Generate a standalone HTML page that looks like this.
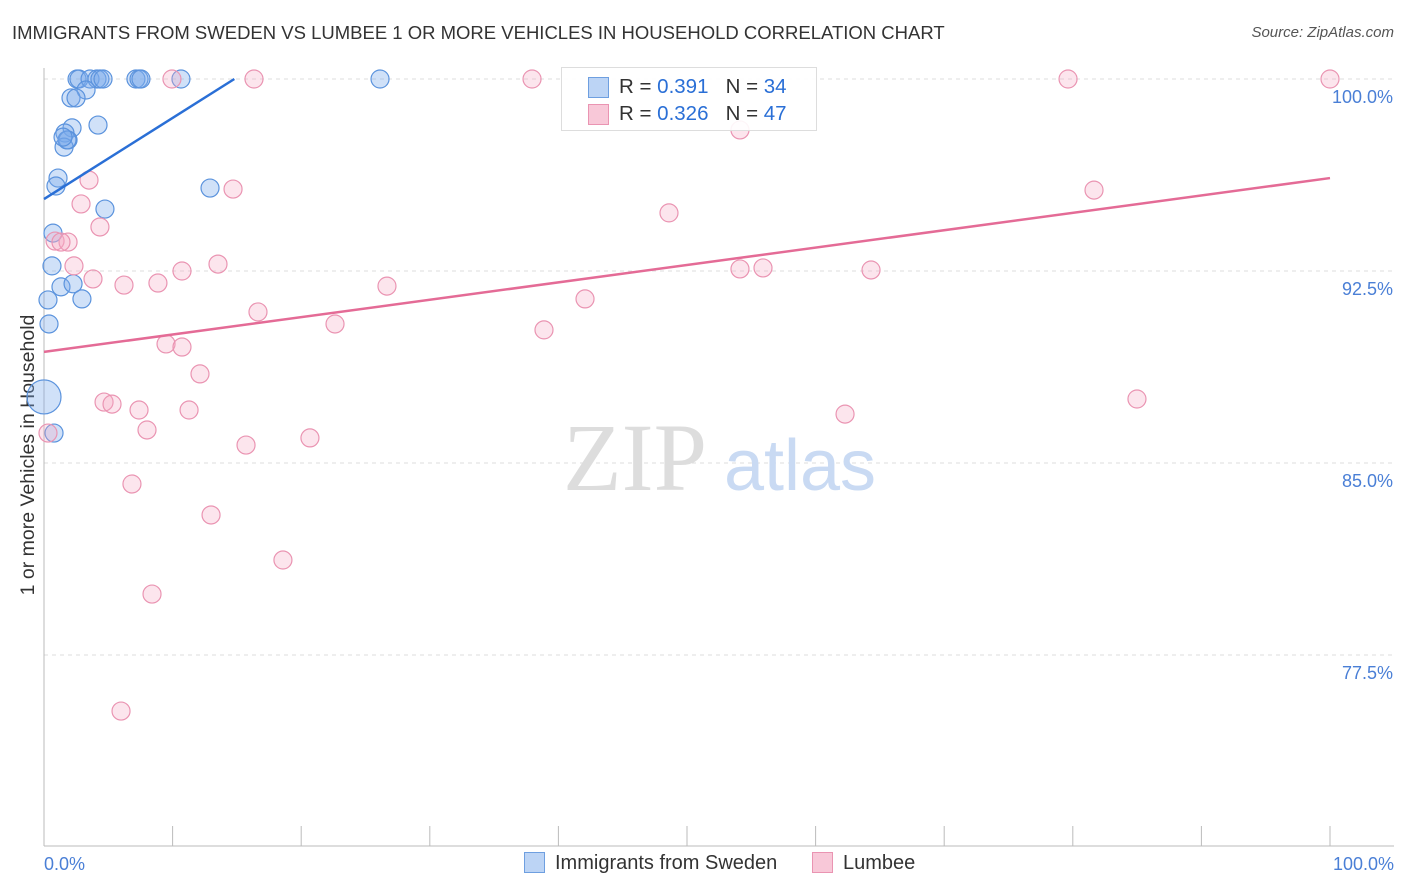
<!DOCTYPE html>
<html><head><meta charset="utf-8"><style>
body{margin:0;background:#fff;font-family:"Liberation Sans",sans-serif;}
#wrap{position:relative;width:1406px;height:892px;overflow:hidden;}
.t{position:absolute;white-space:nowrap;}
</style></head><body><div id="wrap">
<div class="t" style="left:12px;top:22px;font-size:18.5px;color:#333;">IMMIGRANTS FROM SWEDEN VS LUMBEE 1 OR MORE VEHICLES IN HOUSEHOLD CORRELATION CHART</div>
<div class="t" style="right:12px;top:24px;font-size:15px;color:#555;font-style:italic;">Source: ZipAtlas.com</div>
<svg id="svg" width="1406" height="892" style="position:absolute;left:0;top:0"></svg>
</div>
<script>
const yTicks=[100,92.5,85,77.5];
const yTickLabels=["100.0%","92.5%","85.0%","77.5%"];
const xTickLabels=["0.0%","100.0%"];
const blueX=[2.57,2.72,3.58,4.12,4.35,4.59,7.15,7.39,7.54,10.65,26.13,3.27,2.10,2.49,4.20,2.18,1.63,1.87,1.56,1.79,1.09,0.93,12.91,4.74,0.70,0.62,1.32,2.26,0.31,2.95,0.39,0,0.78,1.48];
const blueY=[100,100,100,100,100,100,100,100,100,100,100,99.57,99.26,99.26,98.20,98.09,97.89,97.62,97.34,97.62,96.13,95.82,95.74,94.92,93.98,92.70,91.88,92.0,91.37,91.41,90.43,87.58,86.17,97.73];
const pinkX=[9.95,16.33,37.95,79.63,100,54.12,3.50,14.70,81.65,2.88,48.6,4.35,0.86,1.87,1.32,2.33,13.53,10.73,54.12,55.91,64.31,3.81,6.22,8.86,26.67,42.07,16.64,22.63,38.88,9.49,10.73,12.13,4.67,5.29,84.99,7.39,11.28,62.29,8.01,20.68,15.71,0.31,6.84,12.99,18.58,8.40,5.99];
const pinkY=[100,100,100,100,100,98.01,96.05,95.70,95.66,95.12,94.77,94.22,93.67,93.63,93.63,92.70,92.77,92.5,92.58,92.62,92.54,92.19,91.95,92.03,91.91,91.41,90.90,90.43,90.20,89.65,89.53,88.48,87.38,87.30,87.5,87.07,87.07,86.91,86.29,85.98,85.70,86.17,84.18,82.97,81.21,79.88,75.31];
const blueLine=[[0,95.31],[14.8,100]];
const pinkLine=[[0,89.34],[100,96.13]];
const X=v=>44+v*12.86, Y=v=>79+(100-v)*25.6;
const NS="http://www.w3.org/2000/svg", svg=document.getElementById('svg');
function mk(tag,at){const e=document.createElementNS(NS,tag);for(const k in at)e.setAttribute(k,at[k]);svg.appendChild(e);return e;}
yTicks.forEach((t,i)=>{
 const g=mk('line',{x1:44,x2:1394,y1:Y(t),y2:Y(t),stroke:'#ddd','stroke-dasharray':'4,4'});
 
 
 const tx=mk('text',{x:1393,y:Y(t)+24,'text-anchor':'end','font-size':18,fill:'#4a7fd6','font-family':'Liberation Sans'});
 tx.textContent=yTickLabels[i];
 
 
});
const ax=mk('line',{x1:44,x2:44,y1:68,y2:846,stroke:'#bbb'});


const bx=mk('line',{x1:44,x2:1394,y1:846,y2:846,stroke:'#bbb'});


for(let i=0;i<=10;i++){const tk=mk('line',{x1:X(i*10),x2:X(i*10),y1:826,y2:846,stroke:'#bbb'});
 
 }
[[0,'start',44],[1,'end',1394]].forEach(([i,a,x])=>{const t=mk('text',{x:x,y:870,'text-anchor':a,'font-size':18,fill:'#4a7fd6','font-family':'Liberation Sans'});t.textContent=xTickLabels[i];
 
 });
const yt=mk('text',{x:0,y:0,transform:'translate(34,455) rotate(-90)','text-anchor':'middle','font-size':19.5,fill:'#333','font-family':'Liberation Sans'});
yt.textContent='1 or more Vehicles in Household';


const w1=mk('text',{x:635,y:490,'text-anchor':'middle','font-size':96,fill:'#ddd','font-family':'Liberation Serif'});w1.textContent='ZIP';


const w2=mk('text',{x:800,y:490,'text-anchor':'middle','font-size':72,fill:'#c9daf3','font-family':'Liberation Sans'});w2.textContent='atlas';


blueX.forEach((v,i)=>{const r=(v===0&&blueY[i]<88)?17:9;const c=mk('circle',{cx:X(v),cy:Y(blueY[i]),r:r,fill:'rgba(120,170,235,0.35)',stroke:'#5b93dd','stroke-width':1.2});
 
 });
pinkX.forEach((v,i)=>{const c=mk('circle',{cx:X(v),cy:Y(pinkY[i]),r:9,fill:'rgba(245,170,195,0.3)',stroke:'#ea94b2','stroke-width':1.2});
 
 });
const bl=mk('line',{x1:X(blueLine[0][0]),y1:Y(blueLine[0][1]),x2:X(blueLine[1][0]),y2:Y(blueLine[1][1]),stroke:'#2a6fd6','stroke-width':2.5});


const pl=mk('line',{x1:X(pinkLine[0][0]),y1:Y(pinkLine[0][1]),x2:X(pinkLine[1][0]),y2:Y(pinkLine[1][1]),stroke:'#e46b96','stroke-width':2.5});


</script>
<div style="position:absolute;left:561px;top:67px;width:254px;height:62px;border:1px solid #ddd;background:rgba(255,255,255,0.9);font-size:20.5px;color:#333;">
 <div style="position:absolute;left:26px;top:9px;width:19px;height:19px;background:#bcd4f5;border:1px solid #6e9fe0;"></div>
 <div class="t" style="left:57px;top:7px;">R = <span style="color:#2a6fd6">0.391</span>&nbsp;&nbsp;&nbsp;N = <span style="color:#2a6fd6">34</span></div>
 <div style="position:absolute;left:26px;top:36px;width:19px;height:19px;background:#f8c8d8;border:1px solid #ea94b2;"></div>
 <div class="t" style="left:57px;top:34px;">R = <span style="color:#2a6fd6">0.326</span>&nbsp;&nbsp;&nbsp;N = <span style="color:#2a6fd6">47</span></div>
</div>
<div style="position:absolute;left:524px;top:852px;font-size:20px;color:#333;">
 <span style="display:inline-block;width:19px;height:19px;background:#bcd4f5;border:1px solid #6e9fe0;vertical-align:-4px;margin-right:10px;"></span>Immigrants from Sweden</div>
<div style="position:absolute;left:812px;top:852px;font-size:20px;color:#333;">
 <span style="display:inline-block;width:19px;height:19px;background:#f8c8d8;border:1px solid #ea94b2;vertical-align:-4px;margin-right:10px;"></span>Lumbee</div>
</body></html>
